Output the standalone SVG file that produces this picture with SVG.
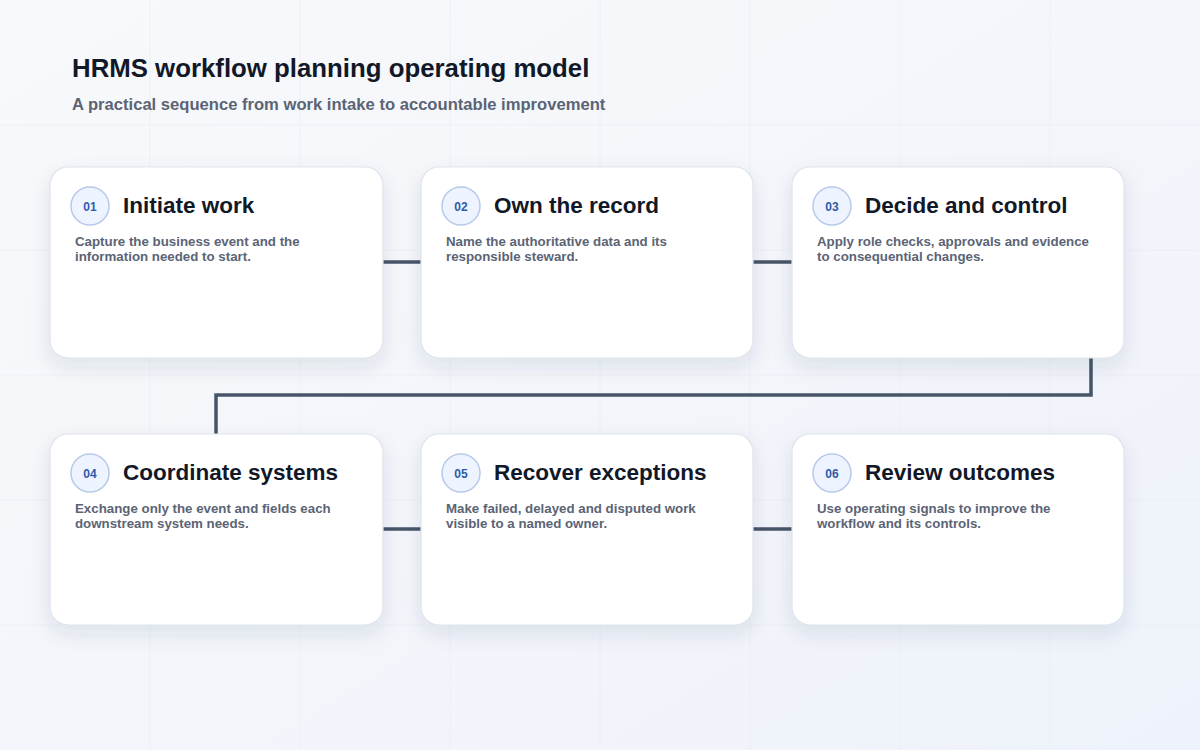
<svg xmlns="http://www.w3.org/2000/svg" width="1200" height="750" viewBox="0 0 1200 750">
<defs>
<linearGradient id="bg" x1="0" y1="0" x2="1" y2="1">
<stop offset="0" stop-color="#f8f9fb"/>
<stop offset="1" stop-color="#eef2fa"/>
</linearGradient>
<filter id="sh" x="-20%" y="-20%" width="140%" height="150%">
<feDropShadow dx="0" dy="8" stdDeviation="10" flood-color="#1e2a4a" flood-opacity="0.10"/>
</filter>
<style>
.card{fill:#ffffff;stroke:#dde3ec;stroke-width:1.2}
.badge{fill:#eef4ff;stroke:#b7c9ea;stroke-width:1.5}
.num{font-family:"Liberation Sans",Arial,sans-serif;font-size:12px;font-weight:bold;fill:#2f5aa8;text-anchor:middle}
.ttl{font-family:"Liberation Sans",Arial,sans-serif;font-size:22.5px;font-weight:bold;fill:#111827}
.desc{font-family:"Liberation Sans",Arial,sans-serif;font-size:13.3px;font-weight:bold;fill:#5b6475}
.conn{fill:none;stroke:#475569;stroke-width:3.5}
.grid{stroke:#e9edf3;stroke-width:1}
</style>
</defs>
<rect width="1200" height="750" fill="url(#bg)"/>
<g class="grid" opacity="0.7">
<line x1="150" y1="0" x2="150" y2="750"/><line x1="300" y1="0" x2="300" y2="750"/><line x1="450" y1="0" x2="450" y2="750"/><line x1="600" y1="0" x2="600" y2="750"/><line x1="750" y1="0" x2="750" y2="750"/><line x1="900" y1="0" x2="900" y2="750"/><line x1="1050" y1="0" x2="1050" y2="750"/>
<line x1="0" y1="125" x2="1200" y2="125"/><line x1="0" y1="250" x2="1200" y2="250"/><line x1="0" y1="375" x2="1200" y2="375"/><line x1="0" y1="500" x2="1200" y2="500"/><line x1="0" y1="625" x2="1200" y2="625"/>
</g>
<text x="72" y="77" font-family="Liberation Sans,Arial,sans-serif" font-size="25.8" font-weight="bold" fill="#111827">HRMS workflow planning operating model</text>
<text x="72" y="110" font-family="Liberation Sans,Arial,sans-serif" font-size="16.6" font-weight="bold" fill="#5b6475">A practical sequence from work intake to accountable improvement</text>
<g id="connectors">
<line class="conn" x1="383" y1="262" x2="421" y2="262"/>
<line class="conn" x1="753" y1="262" x2="792" y2="262"/>
<polyline class="conn" points="1091,358 1091,395 216,395 216,434"/>
<line class="conn" x1="383" y1="529" x2="421" y2="529"/>
<line class="conn" x1="753" y1="529" x2="792" y2="529"/>
</g>
<g id="node1">
<rect class="card" x="50" y="167" width="333" height="191" rx="18" filter="url(#sh)"/>
<circle class="badge" cx="90" cy="206" r="19"/>
<text class="num" x="90" y="210.5">01</text>
<text class="ttl" x="123" y="212.5">Initiate work</text>
<text class="desc" x="75" y="246">Capture the business event and the</text>
<text class="desc" x="75" y="261">information needed to start.</text>
</g>
<g id="node2">
<rect class="card" x="421" y="167" width="332" height="191" rx="18" filter="url(#sh)"/>
<circle class="badge" cx="461" cy="206" r="19"/>
<text class="num" x="461" y="210.5">02</text>
<text class="ttl" x="494" y="212.5">Own the record</text>
<text class="desc" x="446" y="246">Name the authoritative data and its</text>
<text class="desc" x="446" y="261">responsible steward.</text>
</g>
<g id="node3">
<rect class="card" x="792" y="167" width="332" height="191" rx="18" filter="url(#sh)"/>
<circle class="badge" cx="832" cy="206" r="19"/>
<text class="num" x="832" y="210.5">03</text>
<text class="ttl" x="865" y="212.5">Decide and control</text>
<text class="desc" x="817" y="246">Apply role checks, approvals and evidence</text>
<text class="desc" x="817" y="261">to consequential changes.</text>
</g>
<g id="node4">
<rect class="card" x="50" y="434" width="333" height="191" rx="18" filter="url(#sh)"/>
<circle class="badge" cx="90" cy="473" r="19"/>
<text class="num" x="90" y="477.5">04</text>
<text class="ttl" x="123" y="479.5">Coordinate systems</text>
<text class="desc" x="75" y="513">Exchange only the event and fields each</text>
<text class="desc" x="75" y="528">downstream system needs.</text>
</g>
<g id="node5">
<rect class="card" x="421" y="434" width="332" height="191" rx="18" filter="url(#sh)"/>
<circle class="badge" cx="461" cy="473" r="19"/>
<text class="num" x="461" y="477.5">05</text>
<text class="ttl" x="494" y="479.5">Recover exceptions</text>
<text class="desc" x="446" y="513">Make failed, delayed and disputed work</text>
<text class="desc" x="446" y="528">visible to a named owner.</text>
</g>
<g id="node6">
<rect class="card" x="792" y="434" width="332" height="191" rx="18" filter="url(#sh)"/>
<circle class="badge" cx="832" cy="473" r="19"/>
<text class="num" x="832" y="477.5">06</text>
<text class="ttl" x="865" y="479.5">Review outcomes</text>
<text class="desc" x="817" y="513">Use operating signals to improve the</text>
<text class="desc" x="817" y="528">workflow and its controls.</text>
</g>
</svg>
